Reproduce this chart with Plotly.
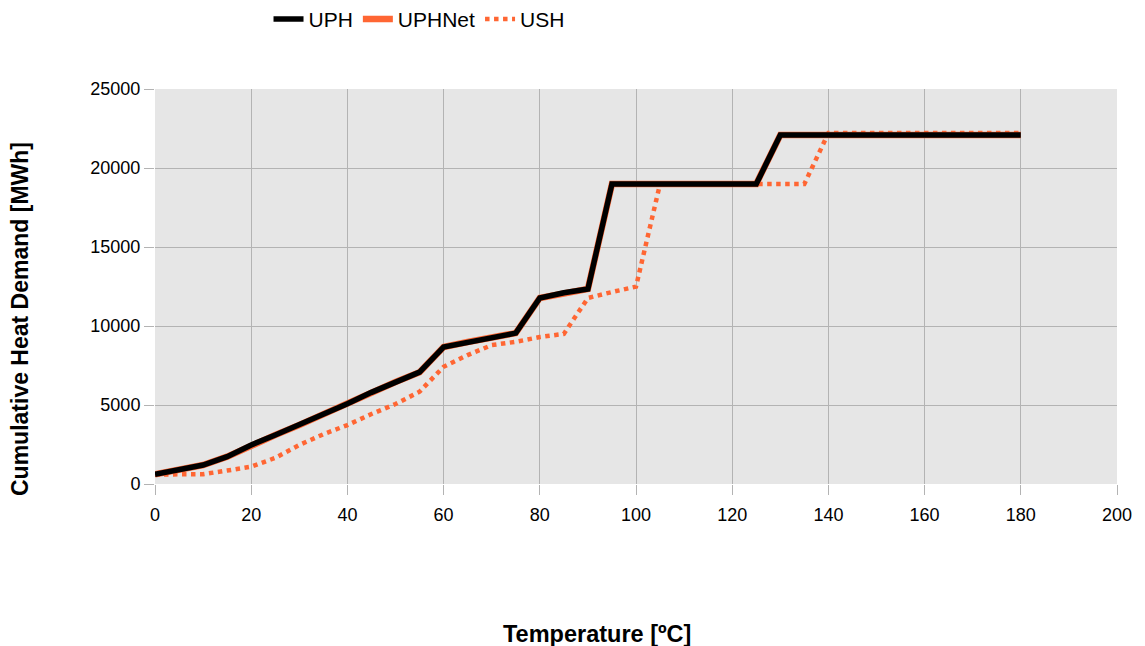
import plotly.graph_objects as go

temps = [0, 10, 15, 20, 25, 30, 35, 40, 45, 50, 55, 60, 65, 70, 75, 80, 85, 90, 95, 100, 105, 110, 115, 120, 125, 130, 135, 140, 145, 150, 155, 160, 165, 170, 175, 180]
uph = [620, 1200, 1730, 2470, 3100, 3730, 4430, 5080, 5800, 6450, 7080, 8670, 8990, 9300, 9550, 11770, 12100, 12340, 18990, 18990, 18990, 18990, 18990, 18990, 18990, 22090, 22090, 22090, 22090, 22090, 22090, 22090, 22090, 22090, 22090, 22090]
uph_net = list(uph)
ush_temps = [0, 10, 15, 20, 25, 30, 35, 40, 45, 50, 55, 60, 65, 70, 75, 80, 85, 90, 95, 100, 105, 110, 115, 120, 125, 130, 135, 140, 145, 150, 155, 160, 165, 170, 175, 180]
ush = [600, 620, 850, 1100, 1650, 2470, 3150, 3730, 4430, 5060, 5840, 7420, 8160, 8790, 9000, 9300, 9500, 11770, 12150, 12490, 18990, 18990, 18990, 18990, 18990, 18990, 18990, 22210, 22210, 22210, 22210, 22210, 22210, 22210, 22210, 22210]

x_title = "Temperature [ºC]"
y_title = "Cumulative Heat Demand [MWh]"

orange = "#ff6633"
fig = go.Figure()
fig.add_trace(go.Scatter(x=temps, y=uph_net, name="UPHNet", mode="lines",
                         line=dict(color=orange, width=6.5), legendrank=2))
fig.add_trace(go.Scatter(x=ush_temps, y=ush, name="USH", mode="lines",
                         line=dict(color=orange, width=4.5, dash="dot"), legendrank=3))
fig.add_trace(go.Scatter(x=temps, y=uph, name="UPH", mode="lines",
                         line=dict(color="black", width=5.5), legendrank=1))

fig.update_layout(
    width=1145, height=646,
    margin=dict(l=155, r=28, t=89, b=162, autoexpand=False),
    paper_bgcolor="white", plot_bgcolor="#e6e6e6",
    font=dict(family="Liberation Sans, Arial, sans-serif", size=18, color="black"),
    showlegend=True,
    legend=dict(orientation="h", x=0.118, xanchor="left", y=1.228, yanchor="top",
                font=dict(size=21), itemwidth=30, tracegroupgap=0),
    xaxis=dict(range=[0, 200], dtick=20, showgrid=True, gridcolor="#b3b3b3", gridwidth=1,
               zeroline=False, showline=False, ticks="outside", ticklen=10, tickcolor="#b3b3b3",
               ticklabelstandoff=4),
    yaxis=dict(range=[0, 25000], dtick=5000, tickformat="d", showgrid=True, gridcolor="#b3b3b3",
               gridwidth=1, zeroline=False, showline=False, ticks="outside", ticklen=10,
               tickcolor="#b3b3b3"),
    annotations=[
        dict(text="<b>" + x_title + "</b>", xref="paper", yref="paper",
             x=(597 - 155) / 962, y=-(634 - 484) / 395, xanchor="center", yanchor="middle",
             showarrow=False, font=dict(size=23.5)),
        dict(text="<b>" + y_title + "</b>", xref="paper", yref="paper",
             x=-(155 - 20) / 962, y=(484 - 319) / 395, xanchor="center", yanchor="middle",
             textangle=-90, showarrow=False, font=dict(size=23)),
    ],
)
fig.write_html("out.html")
